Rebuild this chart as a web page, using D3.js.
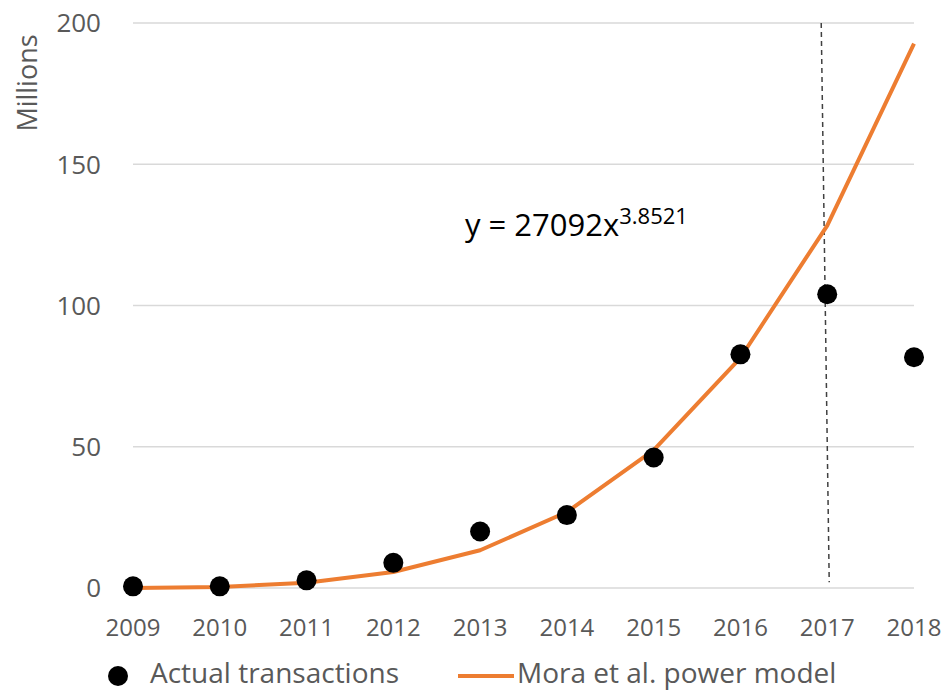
<!DOCTYPE html>
<html lang="en">
<head>
<meta charset="utf-8">
<title>Transactions vs power model</title>
<script src="https://cdn.jsdelivr.net/npm/d3@7"></script>
<style>
body { margin: 0; background: #fff; }
text { font-family: "Open Sans", sans-serif; fill: #595959; }
</style>
</head>
<body>
<script>
// data
var years = ["2009", "2010", "2011", "2012", "2013", "2014", "2015", "2016", "2017", "2018"];
var actual = [0.6, 0.6, 2.7, 8.9, 20.0, 25.8, 46.2, 82.7, 104.0, 81.7];
var model = [0.03, 0.39, 1.87, 5.65, 13.35, 26.9, 48.8, 81.5, 128.3, 192.7];
var yTicks = [0, 50, 100, 150, 200];
var markerYear = "2017";

var w = 946, h = 694;
var margin = {top: 23, right: 32, bottom: 106, left: 133};

var svg = d3.select("body").append("svg")
    .attr("width", w)
    .attr("height", h);

var x = d3.scalePoint()
    .domain(years)
    .range([margin.left, w - margin.right]);

var y = d3.scaleLinear()
    .domain([0, 200])
    .range([h - margin.bottom, margin.top]);

// gridlines
svg.append("g").selectAll("line")
    .data(yTicks)
    .enter().append("line")
    .attr("x1", margin.left)
    .attr("x2", w - margin.right)
    .attr("y1", function(d) { return y(d); })
    .attr("y2", function(d) { return y(d); })
    .attr("stroke", "#d9d9d9")
    .attr("stroke-width", 1.5);

// y labels
svg.append("g").selectAll("text")
    .data(yTicks)
    .enter().append("text")
    .attr("x", 101)
    .attr("y", function(d) { return y(d); })
    .attr("dy", "0.36em")
    .attr("text-anchor", "end")
    .style("font-size", "26px")
    .text(function(d) { return d; });

svg.append("text")
    .attr("transform", "translate(37,83) rotate(-90)")
    .attr("text-anchor", "middle")
    .style("font-size", "27px")
    .text("Millions");

// x labels
svg.append("g").selectAll("text")
    .data(years)
    .enter().append("text")
    .attr("x", function(d) { return x(d); })
    .attr("y", 627)
    .attr("dy", "0.36em")
    .attr("text-anchor", "middle")
    .style("font-size", "24px")
    .text(function(d) { return d; });

// dashed marker at 2017
svg.append("line")
    .attr("x1", x(markerYear) - 6)
    .attr("x2", x(markerYear) + 2)
    .attr("y1", y(200))
    .attr("y2", y(2))
    .attr("stroke", "#404040")
    .attr("stroke-width", 1.5)
    .attr("stroke-dasharray", "5,4");

// model line
var line = d3.line()
    .x(function(d, i) { return x(years[i]); })
    .y(function(d) { return y(d); });

svg.append("path")
    .datum(model)
    .attr("d", line)
    .attr("fill", "none")
    .attr("stroke", "#ED7D31")
    .attr("stroke-width", 4)
    .attr("stroke-linejoin", "round");

// actual points
svg.append("g").selectAll("circle")
    .data(actual)
    .enter().append("circle")
    .attr("cx", function(d, i) { return x(years[i]); })
    .attr("cy", function(d) { return y(d); })
    .attr("r", 10)
    .attr("fill", "#000");

// equation
var eq = svg.append("text")
    .attr("x", 465)
    .attr("y", 236)
    .style("font-size", "31px")
    .style("fill", "#000");
eq.append("tspan").text("y = 27092x");
eq.append("tspan")
    .attr("dy", -12)
    .style("font-size", "22px")
    .text("3.8521");

// legend
var legY = 676;
svg.append("circle")
    .attr("cx", 118)
    .attr("cy", legY)
    .attr("r", 10)
    .attr("fill", "#000");
svg.append("text")
    .attr("x", 150)
    .attr("y", legY - 3)
    .attr("dy", "0.36em")
    .style("font-size", "28px")
    .text("Actual transactions");

svg.append("line")
    .attr("x1", 458)
    .attr("x2", 514)
    .attr("y1", legY)
    .attr("y2", legY)
    .attr("stroke", "#ED7D31")
    .attr("stroke-width", 4);
svg.append("text")
    .attr("x", 517)
    .attr("y", legY - 3)
    .attr("dy", "0.36em")
    .style("font-size", "28px")
    .text("Mora et al. power model");
</script>
</body>
</html>
